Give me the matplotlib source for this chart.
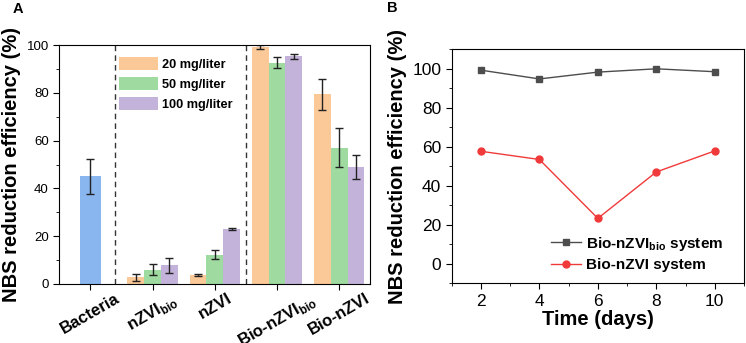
import matplotlib
matplotlib.use('Agg')
import matplotlib.pyplot as plt
import matplotlib.transforms as mtransforms
from matplotlib.ticker import MultipleLocator
import numpy as np

plt.rcParams['font.family'] = 'Liberation Sans'
plt.rcParams['mathtext.fontset'] = 'custom'
plt.rcParams['mathtext.rm'] = 'Liberation Sans'
plt.rcParams['mathtext.bf'] = 'Liberation Sans:bold'

#------------------------datos panel A------------------------
categorias = ['Bacteria', r'nZVI$_{\mathbf{bio}}$', 'nZVI',
              r'Bio-nZVI$_{\mathbf{bio}}$', 'Bio-nZVI']
bacteria_val = 45.0
bacteria_err = 7.2
dosis = ['20 mg/liter', '50 mg/liter', '100 mg/liter']
val_20 = [2.8, 3.7, 99.0, 79.3]
err_20 = [1.5, 0.5, 0.8, 6.3]
val_50 = [6.0, 12.3, 92.5, 57.0]
err_50 = [2.2, 2.0, 2.3, 8.2]
val_100 = [7.8, 23.0, 95.2, 48.8]
err_100 = [3.0, 0.5, 1.0, 5.0]

#------------------------datos panel B------------------------
dias = [2, 4, 6, 8, 10]
bio_nzvibio = [99.3, 94.8, 98.3, 100.0, 98.5]
bio_nzvi = [57.7, 53.5, 23.3, 47.1, 57.9]

col_bact = '#8AB6F0'
col_dosis = ['#FBC898', '#9FDBA0', '#C3B3DB']

fig = plt.figure(figsize=(7.46, 3.43), dpi=100)

#------------------------Panel A------------------------------
ax = fig.add_axes([59.3/746, 59/343, 311/746, 239/343])
x = np.arange(1, 6)
ek = dict(ecolor='#222222', elinewidth=1, capsize=3, capthick=1)
ax.bar(1, bacteria_val, width=0.33, color=col_bact, yerr=bacteria_err, error_kw=ek)
w = 0.27
xg = x[1:]
for k, (v, e) in enumerate([(val_20, err_20), (val_50, err_50), (val_100, err_100)]):
    ax.bar(xg + (k - 1)*w, v, width=w, color=col_dosis[k], yerr=e,
           error_kw=ek, label=dosis[k])
for xv in [1.39, 3.5]:
    ax.axvline(xv, color='#333333', lw=1, linestyle=(0, (4, 3)))
ax.set_xlim(0.5, 5.5)
ax.set_ylim(0, 100)
ax.set_xticks(x)
ax.set_xticklabels(categorias, rotation=30, ha='center', fontsize=12, fontweight='bold')
offset = mtransforms.ScaledTranslation(-6/100, 3/100, fig.dpi_scale_trans)
for lab in ax.get_xticklabels():
    lab.set_transform(lab.get_transform() + offset)
ax.yaxis.set_major_locator(MultipleLocator(20))
ax.yaxis.set_minor_locator(MultipleLocator(10))
ax.tick_params(axis='y', labelsize=9.5, length=4)
ax.tick_params(axis='y', which='minor', length=2.5)
ax.tick_params(axis='x', length=4, pad=1)
ax.set_ylabel('NBS reduction efficiency (%)', fontsize=14.5, fontweight='bold', labelpad=4)
leg = ax.legend(loc='upper left', bbox_to_anchor=(0.172, 0.975), frameon=False,
                prop={'weight': 'bold', 'size': 9.2}, handlelength=3.0,
                handleheight=1.15, labelspacing=0.5, borderpad=0, handletextpad=0.35)
fig.text(13/746, 1 - 13/343, 'A', fontsize=10.5, fontweight='bold')

#------------------------Panel B------------------------------
bx = fig.add_axes([451.7/746, 59.7/343, 292.3/746, 234/343])
bx.plot(dias, bio_nzvibio, '-s', color='#4D4D4D', lw=1, ms=4.5,
        label=r'Bio-nZVI$_{\mathbf{bio}}$ system')
bx.plot(dias, bio_nzvi, '-o', color='#F03A3A', lw=1, ms=5,
        label='Bio-nZVI system')
bx.set_xlim(1, 11)
bx.set_ylim(-10, 110)
bx.set_xticks(dias)
bx.xaxis.set_minor_locator(MultipleLocator(1))
bx.yaxis.set_major_locator(MultipleLocator(20))
bx.yaxis.set_minor_locator(MultipleLocator(10))
bx.set_yticks([0, 20, 40, 60, 80, 100])
bx.tick_params(labelsize=12.5, length=4)
bx.tick_params(which='minor', length=2.5)
bx.set_xlabel('Time (days)', fontsize=14.5, fontweight='bold', labelpad=1)
bx.set_ylabel('NBS reduction efficiency (%)', fontsize=14.5, fontweight='bold', labelpad=4)
bx.legend(loc='lower right', bbox_to_anchor=(0.955, 0.015), frameon=False,
          prop={'weight': 'bold', 'size': 11}, handlelength=2.0,
          labelspacing=0.35, borderpad=0, handletextpad=0.3)
fig.text(387/746, 1 - 12/343, 'B', fontsize=10.5, fontweight='bold')

plt.savefig('out.png', dpi=100)
